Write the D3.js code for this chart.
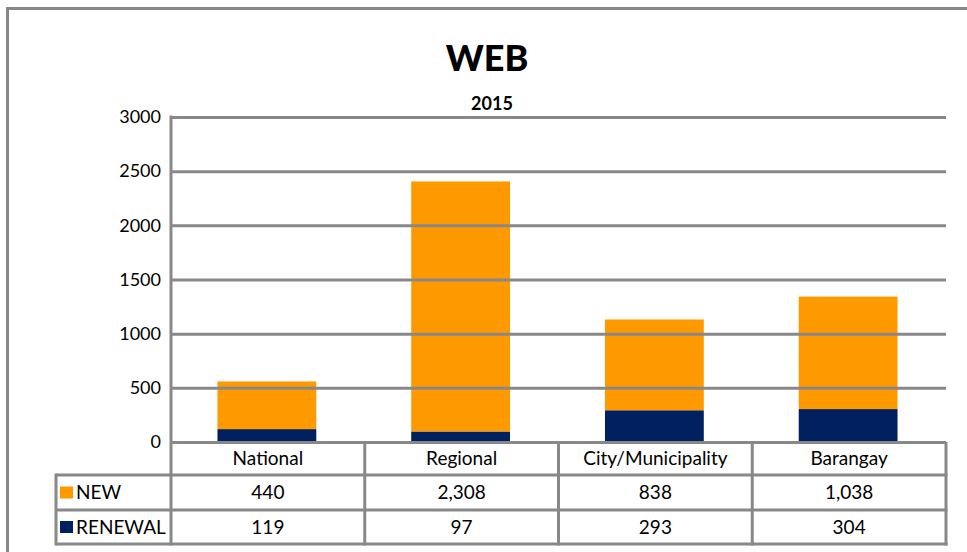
<!DOCTYPE html>
<html>
<head>
<meta charset="utf-8">
<script src="https://cdn.jsdelivr.net/npm/d3@7"></script>
<style>
  body { margin: 0; background: #fff; }
  text { font-family: Lato, "Open Sans", sans-serif; fill: #000; }
</style>
</head>
<body>
<svg width="967" height="552"></svg>
<script>

// values
const categories = ["National", "Regional", "City/Municipality", "Barangay"];
const newValues = [440, 2308, 838, 1038];
const renewalValues = [119, 97, 293, 304];
const seriesNames = ["NEW", "RENEWAL"];
const yTicks = [0, 500, 1000, 1500, 2000, 2500, 3000];

let svg = d3.select("svg"),
    plotL = 171, plotR = 946, plotT = 117, plotB = 442,
    rowH = [442, 475, 510, 544],
    color = d3.scaleOrdinal() // one colour per series
      .domain(seriesNames)
      .range(["#ff9900", "#002060"]),
    fmt = d3.format(",");

let table = categories.map(function(c, i) {
  return {cat: c, NEW: newValues[i], RENEWAL: renewalValues[i]};
});

let x = d3.scaleBand().domain(categories).range([plotL, plotR]),
    y = d3.scaleLinear().domain([0, 3000]).range([plotB, plotT]);

let stack = d3.stack().keys(["RENEWAL", "NEW"])(table);

// outer frame
svg.append("path")
    .attr("d", "M7.5,560 V8.5 H980")
    .attr("fill", "none").attr("stroke", "#888").attr("stroke-width", 3);

// titles
svg.append("text").attr("x", 487).attr("y", 71)
    .attr("text-anchor", "middle").attr("font-size", 36).attr("font-weight", 900)
    .text("WEB");
svg.append("text").attr("x", 492).attr("y", 110)
    .attr("text-anchor", "middle").attr("font-size", 18).attr("font-weight", 700)
    .text("2015");

// bars
let barW = x.bandwidth() * 0.51;
svg.append("g").selectAll("g")
  .data(stack).enter().append("g")
    .attr("fill", function(d) { return color(d.key); })
  .selectAll("rect")
  .data(function(d) { return d; }).enter().append("rect")
    .attr("x", function(d) { return x(d.data.cat) + (x.bandwidth() - barW) / 2 - 1; })
    .attr("width", barW)
    .attr("y", function(d) { return y(d[1]); })
    .attr("height", function(d) { return y(d[0]) - y(d[1]); });

// gridlines sit on top of the bars
let grid = svg.append("g")
    .attr("transform", "translate(" + plotL + ",0)")
    .call(d3.axisLeft(y).tickValues(yTicks).tickSize(-(plotR - plotL)).tickFormat(""));
grid.select(".domain").remove();
grid.selectAll("line").attr("stroke", "#888").attr("stroke-width", 3);

// y labels
let yAxis = svg.append("g")
    .attr("transform", "translate(" + (plotL - 10) + ",0)")
    .call(d3.axisLeft(y).tickValues(yTicks).tickSize(0).tickPadding(0).tickFormat(d3.format("d")));
yAxis.select(".domain").remove();
yAxis.selectAll("text").attr("font-size", 18).attr("font-family", "Lato").attr("fill", "#000");

// data table lines
let lines = svg.append("g").attr("stroke", "#888").attr("stroke-width", 3).attr("fill", "none");
lines.append("line").attr("x1", plotL).attr("x2", plotL).attr("y1", plotT - 1.5).attr("y2", rowH[3] + 1.5);
categories.forEach(function(c) {
  lines.append("line").attr("x1", x(c) + x.bandwidth()).attr("x2", x(c) + x.bandwidth())
      .attr("y1", rowH[0]).attr("y2", rowH[3] + 1.5);
});
[rowH[1], rowH[2], rowH[3]].forEach(function(r) {
  lines.append("line").attr("x1", 56).attr("x2", plotR + 1.5).attr("y1", r).attr("y2", r);
});
lines.append("line").attr("x1", 56).attr("x2", 56).attr("y1", rowH[1] - 1.5).attr("y2", rowH[3] + 1.5);

// category header row
svg.append("g").selectAll("text")
  .data(categories).enter().append("text")
    .attr("x", function(d) { return x(d) + x.bandwidth() / 2; })
    .attr("y", (rowH[0] + rowH[1]) / 2)
    .attr("dy", "0.35em").attr("text-anchor", "middle").attr("font-size", 19)
    .text(function(d) { return d; });

// value rows with legend keys
let rows = svg.append("g").selectAll("g")
  .data(seriesNames).enter().append("g")
    .attr("transform", function(d, i) { return "translate(0," + (rowH[i + 1] + rowH[i + 2]) / 2 + ")"; });

rows.append("rect")
    .attr("x", 60).attr("y", -6).attr("width", 13).attr("height", 12)
    .attr("fill", function(d) { return color(d); });
rows.append("text")
    .attr("x", 76).attr("dy", "0.35em").attr("font-size", 19)
    .text(function(d) { return d; });
rows.selectAll("text.val")
  .data(function(d) { return table.map(function(t) { return {cat: t.cat, v: t[d]}; }); })
  .enter().append("text")
    .attr("class", "val")
    .attr("x", function(d) { return x(d.cat) + x.bandwidth() / 2; })
    .attr("dy", "0.35em").attr("text-anchor", "middle").attr("font-size", 19)
    .text(function(d) { return fmt(d.v); });

</script>
</body>
</html>
